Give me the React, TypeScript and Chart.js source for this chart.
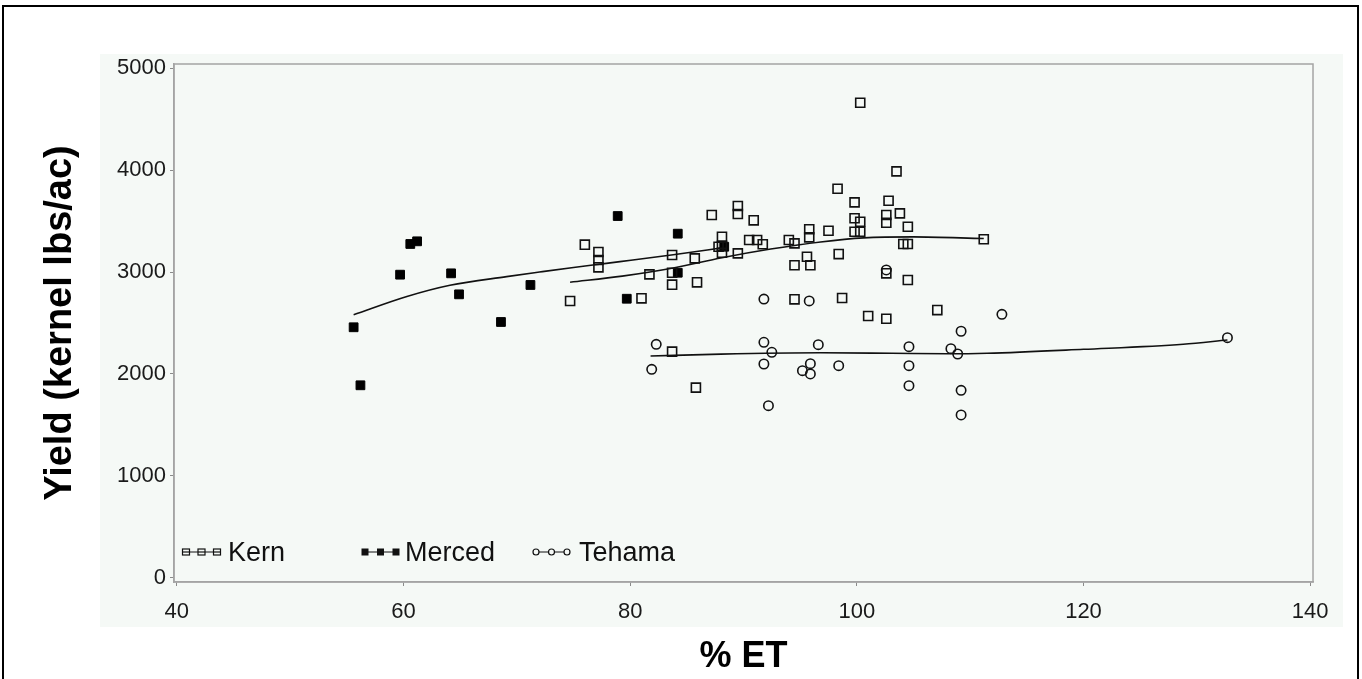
import React, { useEffect, useRef } from "react";
import { Chart, registerables } from "chart.js";

Chart.register(...registerables);

const xTicks = [40, 60, 80, 100, 120, 140];
const yTicks = [0, 1000, 2000, 3000, 4000, 5000];

const seriesNames = ["Kern", "Merced", "Tehama"];

const kernX = [100.3, 103.5, 98.3, 99.8, 102.8, 89.5, 89.5, 87.2, 90.9, 103.8, 102.6, 102.6, 99.8, 100.3, 104.5, 95.8, 97.5, 99.8, 100.3, 95.8, 88.1, 88.1, 87.8, 90.5, 91.2, 91.7, 94.0, 94.5, 111.2, 104.1, 104.5, 83.7, 85.7, 89.5, 88.1, 98.4, 95.6, 94.5, 95.9, 81.7, 83.7, 83.7, 85.9, 102.6, 104.5, 81.0, 94.5, 98.7, 101.0, 102.6, 107.1, 83.7, 85.8, 76.0, 77.2, 77.2, 77.2, 74.7];
const kernY = [4660, 3987, 3817, 3683, 3699, 3647, 3569, 3559, 3507, 3575, 3559, 3483, 3527, 3493, 3444, 3419, 3405, 3395, 3395, 3340, 3346, 3258, 3248, 3314, 3314, 3272, 3314, 3281, 3321, 3275, 3275, 3167, 3134, 3183, 3189, 3176, 3150, 3066, 3066, 2977, 2993, 2876, 2899, 2987, 2922, 2742, 2732, 2745, 2569, 2542, 2627, 2219, 1866, 3268, 3196, 3118, 3046, 2716];

const mercedX = [55.6, 56.2, 59.7, 60.6, 61.2, 64.2, 64.9, 68.6, 71.2, 78.9, 79.7, 84.2, 84.2, 88.3];
const mercedY = [2458, 1889, 2974, 3275, 3301, 2987, 2781, 2510, 2873, 3549, 2738, 3376, 2993, 3248];

const tehamaX = [91.8, 95.8, 102.6, 112.8, 109.2, 82.3, 81.9, 91.8, 92.5, 96.6, 91.8, 95.9, 95.2, 95.9, 98.4, 104.6, 104.6, 104.6, 108.3, 108.9, 109.2, 109.2, 92.2, 132.7];
const tehamaY = [2735, 2716, 3020, 2585, 2419, 2291, 2046, 2311, 2213, 2287, 2098, 2101, 2032, 2000, 2081, 2268, 2081, 1885, 2248, 2196, 1840, 1598, 1689, 2356];

const kernFitX = [74.7, 79.3, 83.8, 88.1, 92.4, 96.8, 100.6, 105.0, 111.2];
const kernFitY = [2899, 2960, 3040, 3140, 3225, 3295, 3335, 3345, 3328];

const mercedFitX = [55.6, 60.3, 64.1, 69.1, 72.0, 75.0, 77.9, 79.1, 83.8, 88.3];
const mercedFitY = [2581, 2760, 2870, 2955, 3000, 3045, 3085, 3102, 3170, 3240];

const tehamaFitX = [81.8, 88.0, 96.8, 103.1, 108.0, 111.5, 120.0, 128.8, 132.7];
const tehamaFitY = [2176, 2195, 2208, 2203, 2198, 2203, 2242, 2291, 2333];

const zip = (xs: number[], ys: number[]) => xs.map((x, i) => ({ x, y: ys[i] }));

const FONT = '"Liberation Sans", Arial, Helvetica, sans-serif';
const INK = "#111111";

export default function App() {
  const ref = useRef<HTMLCanvasElement | null>(null);

  useEffect(() => {
    const canvas = ref.current;
    if (!canvas) return;

    const framePlugin = {
      id: "frameAndLegend",
      beforeDraw(chart: any) {
        const { ctx, chartArea: a } = chart;
        ctx.save();
        ctx.fillStyle = "#ffffff";
        ctx.fillRect(0, 0, chart.width, chart.height);
        ctx.fillStyle = "#f5f9f6";
        ctx.fillRect(a.left - 74, a.top - 10, a.right + 30 - (a.left - 74), a.bottom + 45 - (a.top - 10));
        ctx.strokeStyle = "#000000";
        ctx.lineWidth = 2;
        ctx.strokeRect(3, 6, 1355, 800);
        ctx.restore();
      },
      beforeDatasetsDraw(chart: any) {
        const { ctx, chartArea: a } = chart;
        ctx.save();
        ctx.strokeStyle = "#a4a4a4";
        ctx.lineWidth = 1.5;
        ctx.strokeRect(a.left, a.top, a.right - a.left, a.bottom - a.top);
        ctx.restore();
      },
      afterDatasetsDraw(chart: any) {
        const { ctx, chartArea: a } = chart;
        const cy = a.bottom - 30;
        const entries = [
          { name: seriesNames[0], sx: a.left + 9, tx: a.left + 54, kind: "open" },
          { name: seriesNames[1], sx: a.left + 188, tx: a.left + 231, kind: "filled" },
          { name: seriesNames[2], sx: a.left + 359, tx: a.left + 405, kind: "circle" },
        ];
        ctx.save();
        for (const e of entries) {
          ctx.strokeStyle = INK;
          ctx.lineWidth = 1.2;
          ctx.beginPath();
          ctx.moveTo(e.sx, cy);
          ctx.lineTo(e.sx + 37, cy);
          ctx.stroke();
          for (const off of [3, 18.5, 34]) {
            const mx = e.sx + off;
            if (e.kind === "circle") {
              ctx.fillStyle = "#f5f9f6";
              ctx.beginPath();
              ctx.arc(mx, cy, 3, 0, Math.PI * 2);
              ctx.fill();
              ctx.stroke();
            } else if (e.kind === "filled") {
              ctx.fillStyle = INK;
              ctx.fillRect(mx - 3.5, cy - 3.5, 7, 7);
            } else {
              ctx.fillStyle = "#f5f9f6";
              ctx.fillRect(mx - 3.5, cy - 3, 7, 6);
              ctx.strokeRect(mx - 3.5, cy - 3, 7, 6);
              ctx.beginPath();
              ctx.moveTo(mx - 3.5, cy);
              ctx.lineTo(mx + 3.5, cy);
              ctx.stroke();
            }
          }
          ctx.fillStyle = INK;
          ctx.font = `27px ${FONT}`;
          ctx.textBaseline = "middle";
          ctx.textAlign = "left";
          ctx.fillText(e.name, e.tx, cy + 2);
        }
        ctx.restore();
      },
    };

    const lineStyle = {
      type: "line" as const,
      showLine: true,
      pointRadius: 0,
      borderColor: INK,
      borderWidth: 1.6,
      fill: false,
      cubicInterpolationMode: "monotone" as const,
    };

    const chart = new Chart(canvas, {
      type: "scatter",
      data: {
        datasets: [
          {
            label: seriesNames[0],
            data: zip(kernX, kernY),
            pointStyle: "rect",
            pointRadius: 6.4,
            borderColor: INK,
            borderWidth: 1.6,
            backgroundColor: "rgba(0,0,0,0)",
          },
          {
            label: seriesNames[1],
            data: zip(mercedX, mercedY),
            pointStyle: "rect",
            pointRadius: 6.2,
            borderColor: "#000",
            borderWidth: 1,
            backgroundColor: "#000",
          },
          {
            label: seriesNames[2],
            data: zip(tehamaX, tehamaY),
            pointStyle: "circle",
            pointRadius: 4.7,
            borderColor: INK,
            borderWidth: 1.6,
            backgroundColor: "rgba(0,0,0,0)",
          },
          { ...lineStyle, label: "Kern fit", data: zip(kernFitX, kernFitY) } as any,
          { ...lineStyle, label: "Merced fit", data: zip(mercedFitX, mercedFitY) } as any,
          { ...lineStyle, label: "Tehama fit", data: zip(tehamaFitX, tehamaFitY) } as any,
        ],
      },
      options: {
        animation: false,
        responsive: false,
        maintainAspectRatio: false,
        devicePixelRatio: 1,
        events: [],
        layout: { padding: { left: 30, top: 64, right: 49, bottom: 0 } },
        plugins: {
          legend: { display: false },
          tooltip: { enabled: false },
          title: { display: false },
        },
        scales: {
          x: {
            type: "linear",
            min: 39.75,
            max: 140.25,
            afterBuildTicks: (s: any) => {
              s.ticks = xTicks.map((v) => ({ value: v }));
            },
            afterFit: (s: any) => {
              s.height = 97;
            },
            grid: { display: true, drawOnChartArea: false, drawTicks: true, tickLength: 4, color: "#8a8a8a" },
            border: { display: true, color: "#a4a4a4", width: 1.5 },
            ticks: {
              padding: 13,
              color: "#1a1a1a",
              font: { family: FONT, size: 22 },
              maxRotation: 0,
              autoSkip: false,
              callback: (v: any) => String(v),
            },
            title: {
              display: true,
              text: "% ET",
              color: "#000",
              font: { family: FONT, size: 36, weight: "bold" },
              padding: { top: 0, bottom: 0 },
            },
          },
          y: {
            type: "linear",
            min: -40,
            max: 5040,
            afterBuildTicks: (s: any) => {
              s.ticks = yTicks.map((v) => ({ value: v }));
            },
            afterFit: (s: any) => {
              s.width = 144;
            },
            grid: { display: true, drawOnChartArea: false, drawTicks: true, tickLength: 4, color: "#8a8a8a" },
            border: { display: true, color: "#a4a4a4", width: 1.5 },
            ticks: {
              padding: 4,
              color: "#1a1a1a",
              font: { family: FONT, size: 22 },
              autoSkip: false,
              callback: (v: any) => String(v),
            },
            title: {
              display: true,
              text: "Yield (kernel lbs/ac)",
              color: "#000",
              font: { family: FONT, size: 38, weight: "bold" },
              padding: { top: 8, bottom: 0 },
            },
          },
        },
      } as any,
      plugins: [framePlugin],
    });

    return () => chart.destroy();
  }, []);

  return (
    <div style={{ position: "absolute", left: 0, top: 0, width: 1362, height: 679, overflow: "hidden" }}>
      <canvas ref={ref} width={1362} height={679} style={{ display: "block", width: 1362, height: 679 }} />
    </div>
  );
}
